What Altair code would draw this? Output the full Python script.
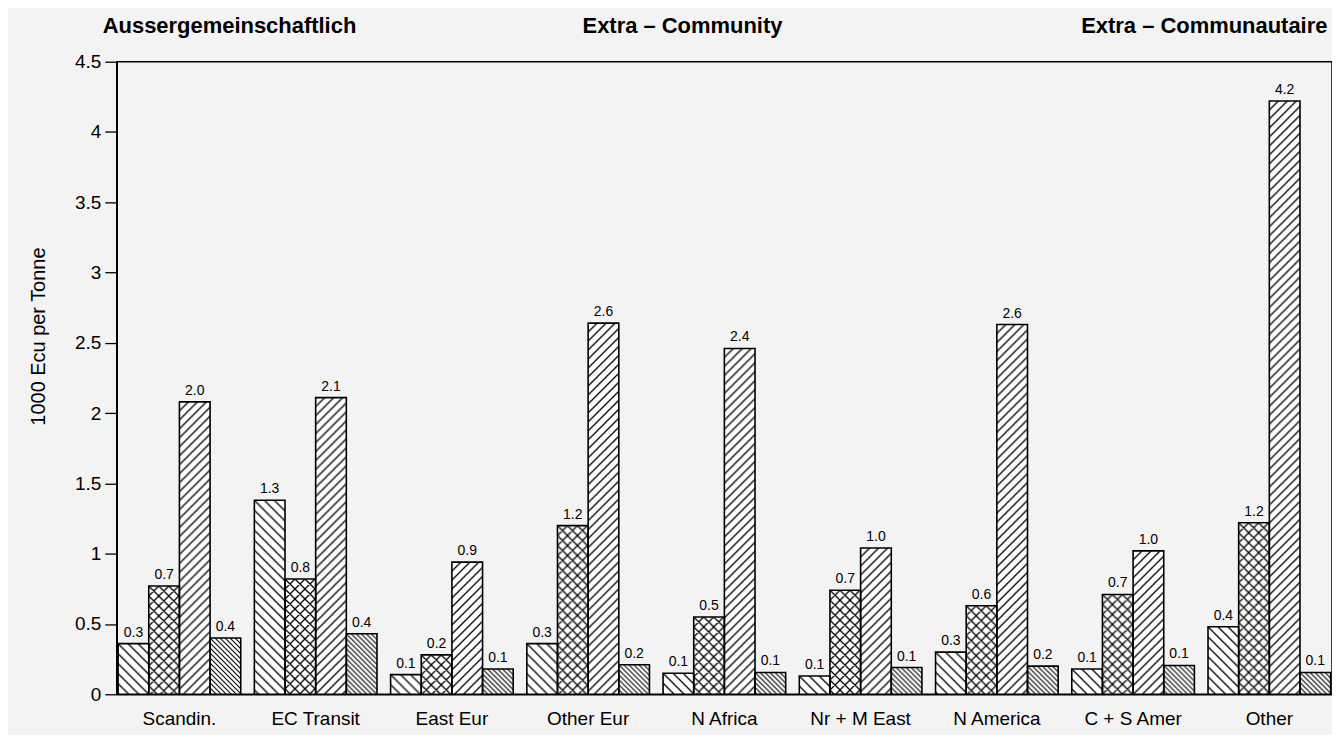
import altair as alt
import pandas as pd
from urllib.parse import quote

# ---- data ----
categories = ["Scandin.", "EC Transit", "East Eur", "Other Eur", "N Africa",
              "Nr + M East", "N America", "C + S Amer", "Other"]
series = ["S1", "S2", "S3", "S4"]

values_s1 = [0.36, 1.38, 0.14, 0.36, 0.15, 0.13, 0.30, 0.18, 0.48]
values_s2 = [0.77, 0.82, 0.28, 1.20, 0.55, 0.74, 0.63, 0.71, 1.22]
values_s3 = [2.08, 2.11, 0.94, 2.64, 2.46, 1.04, 2.63, 1.02, 4.22]
values_s4 = [0.40, 0.43, 0.18, 0.21, 0.155, 0.19, 0.20, 0.205, 0.155]

labels_s1 = ["0.3", "1.3", "0.1", "0.3", "0.1", "0.1", "0.3", "0.1", "0.4"]
labels_s2 = ["0.7", "0.8", "0.2", "1.2", "0.5", "0.7", "0.6", "0.7", "1.2"]
labels_s3 = ["2.0", "2.1", "0.9", "2.6", "2.4", "1.0", "2.6", "1.0", "4.2"]
labels_s4 = ["0.4", "0.4", "0.1", "0.2", "0.1", "0.1", "0.2", "0.1", "0.1"]

y_ticks = [0, 0.5, 1, 1.5, 2, 2.5, 3, 3.5, 4, 4.5]
headers = ["Aussergemeinschaftlich", "Extra \u2013 Community", "Extra \u2013 Communautaire"]
y_title = "1000 Ecu per Tonne"

# ---- hatch textures (style) ----
def hatch(kind, s, w):
    parts = []
    if kind in ("back", "cross"):
        parts.append(f"M0,0 L{s},{s} M-1,{s-1} L1,{s+1} M{s-1},-1 L{s+1},1")
    if kind in ("fwd", "cross"):
        parts.append(f"M0,{s} L{s},0 M-1,1 L1,-1 M{s-1},{s+1} L{s+1},{s-1}")
    svg = ("<svg xmlns='http://www.w3.org/2000/svg'><defs>"
           f"<pattern id='p' width='{s}' height='{s}' patternUnits='userSpaceOnUse'>"
           f"<path d='{' '.join(parts)}' stroke='black' stroke-width='{w}' fill='none'/>"
           "</pattern></defs>"
           "<rect width='100%' height='100%' fill='white'/>"
           "<rect width='100%' height='100%' fill='url(#p)'/></svg>")
    return "data:image/svg+xml;charset=utf-8," + quote(svg)

textures = {"S1": hatch("back", 10, 1.3), "S2": hatch("cross", 10, 1.3),
            "S3": hatch("fwd", 9, 1.3), "S4": hatch("back", 5, 1.1)}

vals = [values_s1, values_s2, values_s3, values_s4]
labs = [labels_s1, labels_s2, labels_s3, labels_s4]
rows = []
for si, s in enumerate(series):
    for ci, c in enumerate(categories):
        rows.append({"category": c, "series": s, "value": vals[si][ci],
                     "label": labs[si][ci], "url": textures[s]})
df = pd.DataFrame(rows)

FONT = "Liberation Sans"

x_enc = alt.X("category:N", sort=categories, title=None,
              scale=alt.Scale(paddingInner=0.1, paddingOuter=0.01),
              axis=alt.Axis(labelAngle=0, ticks=False, labelPadding=15,
                            labelFontSize=19, labelColor="black", domainColor="black",
                            domainWidth=1.5, labelFont=FONT))
xo_enc = alt.XOffset("series:N", sort=series, scale=alt.Scale(paddingInner=0, paddingOuter=0))
y_enc = alt.Y("value:Q", title=y_title,
              scale=alt.Scale(domain=[0, 4.5], nice=False),
              axis=alt.Axis(values=y_ticks, format="~g", grid=False, tickSize=12,
                            tickColor="black", tickWidth=1.3, domainColor="black",
                            domainWidth=1.5, labelFontSize=19, labelColor="black",
                            labelPadding=4, labelFont=FONT, titleFont=FONT,
                            titleFontSize=20, titleFontWeight="normal", titleColor="black",
                            titleX=-78, titleY=275, titleAngle=270,
                            titleAlign="center", titleBaseline="middle"))

base = alt.Chart(df)

tex = base.mark_image(aspect=False).encode(
    x=x_enc, xOffset=xo_enc, y=y_enc, y2=alt.Y2(datum=0), url="url:N")

bars = base.mark_bar(fillOpacity=0, stroke="black", strokeWidth=1.6).encode(
    x=x_enc, xOffset=xo_enc, y=y_enc)

text = base.mark_text(dy=-11, fontSize=14, font=FONT, color="black").encode(
    x=x_enc, xOffset=xo_enc, y=y_enc, text="label:N")

head_x = [113, 567, 1090]
head_layers = []
for h, hx in zip(headers, head_x):
    head_layers.append(
        alt.Chart(pd.DataFrame({"t": [h]})).mark_text(
            fontSize=22, fontWeight="bold", font=FONT, color="black", align="center"
        ).encode(x=alt.value(hx), y=alt.value(-36), text="t:N")
    )

chart = alt.layer(tex, bars, text, *head_layers).properties(
    width=1218, height=634,
    autosize=alt.AutoSizeParams(type="none"),
    padding={"left": 109, "top": 53, "right": 0, "bottom": 40},
).configure(background="#f3f3f3").configure_view(stroke="black", strokeWidth=1.5)

chart.save("out.html", embed_options={"renderer": "svg", "actions": False})
